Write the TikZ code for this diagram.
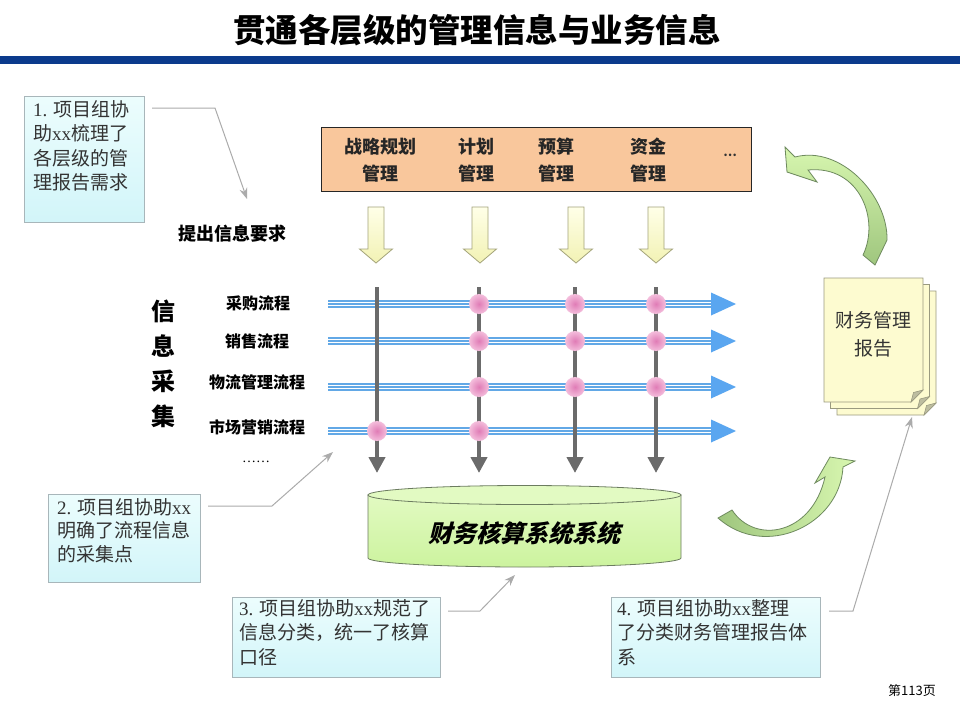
\documentclass[tikz,border=0pt]{standalone}
\usepackage{fontspec}
\setmainfont{Noto Sans CJK SC}
\newfontfamily\latf{Liberation Serif}
\newfontfamily\slantcjk[FakeSlant=0.25]{Noto Sans CJK SC}
\usetikzlibrary{arrows.meta}
\definecolor{titlebar}{HTML}{0B3A8C}
\definecolor{orangebox}{HTML}{F9C79C}
\definecolor{boxtop}{HTML}{ECFDFD}
\definecolor{boxbot}{HTML}{D2F5F9}
\definecolor{boxline}{HTML}{A8B6BA}
\definecolor{connc}{HTML}{ABABAB}
\definecolor{blueln}{HTML}{62A8E6}
\definecolor{bluehead}{HTML}{5AA6F0}
\definecolor{grayarr}{HTML}{6B6B6B}
\definecolor{pinkin}{HTML}{E07CB6}
\definecolor{pinkout}{HTML}{F4BEDC}
\definecolor{yeltop}{HTML}{FFFFE8}
\definecolor{yelbot}{HTML}{F2F2B4}
\definecolor{yelline}{HTML}{A4A47A}
\definecolor{cylfill}{HTML}{CCF39E}
\definecolor{cyltop}{HTML}{E2FAC2}
\definecolor{cylline}{HTML}{6C7C60}
\definecolor{greenlt}{HTML}{D8F7B0}
\definecolor{greendk}{HTML}{9FC67E}
\definecolor{greenln}{HTML}{6E8A5E}
\definecolor{docfill}{HTML}{FDFBD0}
\definecolor{docline}{HTML}{9A9A80}
\definecolor{foldc}{HTML}{BDBDA0}
\definecolor{txt}{HTML}{333333}
\tikzset{
  notebox/.style={draw=boxline, line width=0.8pt, top color=boxtop, bottom color=boxbot, anchor=north west, inner sep=0pt},
  notetext/.style={anchor=north west, inner sep=0pt, align=left, text=txt, font=\fontsize{19}{24.5}\selectfont},
  conn/.style={draw=connc, line width=1pt, -{Stealth[length=11pt,width=8pt]}},
  mgtxt/.style={align=center, font=\fontsize{18}{27}\selectfont\bfseries, text=black!85},
  proctxt/.style={font=\fontsize{16}{16}\selectfont\bfseries},
  yarrow/.style={draw=yelline, line width=0.8pt, top color=yeltop, bottom color=yelbot},
  garrow/.style={draw=grayarr, line width=4.2pt, -{Triangle[length=16pt,width=16pt]}},
  greenarrow/.style={draw=greenln, line width=0.8pt},
  docpage/.style={draw=docline, line width=0.8pt, fill=docfill},
}
\begin{document}
\begin{tikzpicture}[x=1pt,y=-1pt]
\useasboundingbox (0,0) rectangle (960,720);
\fill[white] (0,0) rectangle (960,720);

% title
\node[font=\fontsize{32.5}{32.5}\selectfont\bfseries] (title) at (477,30) {贯通各层级的管理信息与业务信息};
\fill[titlebar] (0,56) rectangle (960,64);

% management box
\node[draw=black!85, line width=1pt, fill=orangebox, minimum width=430pt, minimum height=64pt, anchor=north west] (mgmt) at (321,127) {};
\node[mgtxt] (m1) at (380,160) {战略规划\\管理};
\node[mgtxt] (m2) at (476,160) {计划\\管理};
\node[mgtxt] (m3) at (556,160) {预算\\管理};
\node[mgtxt] (m4) at (648,160) {资金\\管理};
\node[font=\fontsize{12}{12}\selectfont\bfseries, text=black!80] (m5) at (730,155) {…};

% yellow arrows
\foreach \x in {376,480,576,656}{
  \draw[yarrow] (\x-8,207) -- (\x+8,207) -- (\x+8,249) -- (\x+16.5,249) -- (\x,263) -- (\x-16.5,249) -- (\x-8,249) -- cycle;
}
\node[font=\fontsize{18}{18}\selectfont\bfseries] (req) at (232,234) {提出信息要求};

% process labels
\node[font=\fontsize{24}{35}\selectfont\bfseries, align=center] (collect) at (163,364) {信\\息\\采\\集};
\node[proctxt] (p1) at (258,303) {采购流程};
\node[proctxt] (p2) at (257,341) {销售流程};
\node[proctxt] (p3) at (257,382) {物流管理流程};
\node[proctxt] (p4) at (257,427) {市场营销流程};
\node[font=\fontsize{14}{14}\selectfont\latf] (p5) at (256,462) {……};

% horizontal flows
\foreach \y in {304,341,387,431}{
  \draw[blueln, line width=7.5pt] (328,\y) -- (714,\y);
  \draw[white, line width=4pt] (328,\y) -- (714,\y);
  \draw[blueln, line width=1.4pt] (328,\y) -- (714,\y);
  \fill[bluehead] (711,\y-11.5) -- (736,\y) -- (711,\y+11.5) -- cycle;
}
% vertical arrows
\foreach \x in {377,479,575,656}{
  \draw[garrow] (\x,287) -- (\x,473);
}
% collection points
\foreach \p in {(479,304),(575,304),(656,304),(479,341),(575,341),(656,341),(479,387),(575,387),(656,387),(377,431),(479,431)}{
  \shade[inner color=pinkin, outer color=pinkout] \p circle[radius=10];
}

% cylinder
\path[draw=cylline, line width=0.8pt, top color=cyltop, bottom color=cylfill]
  (368,495) -- (368,558) arc[start angle=180, end angle=0, x radius=156.5, y radius=9] -- (681,495) -- cycle;
\draw[cylline, line width=0.8pt, fill=cyltop] (524.5,495) ellipse[x radius=156.5, y radius=9.5];
\node[font=\fontsize{24}{24}\selectfont\slantcjk\bfseries] (sys) at (524,533) {财务核算系统系统};

% report documents
\foreach \d in {13,6.5,0}{
  \draw[docpage] (824+\d,278+\d) -- (923+\d,278+\d) -- (923+\d,390+\d) -- (911+\d,402+\d) -- (824+\d,402+\d) -- cycle;
  \draw[docline, line width=0.6pt, fill=foldc] (911+\d,402+\d) -- (923+\d,390+\d) -- (913.5+\d,392.5+\d) -- cycle;
}
\node[align=center, text=black!80, font=\fontsize{19}{28}\selectfont] (report) at (873,334) {财务管理\\报告};

% green curved arrows
\path[greenarrow, top color=greenlt, bottom color=greendk]
  (785,147) -- (795,157) .. controls (840,145) and (888,195) .. (887,240) -- (875,265) -- (863,255)
  .. controls (880,220) and (860,165) .. (808,170) -- (817,182) -- (787,172) -- cycle;
\path[greenarrow, left color=greendk, right color=greenlt]
  (718,518) -- (732,510) .. controls (755,545) and (812,535) .. (825,477) -- (815,483) -- (830,457)
  -- (855,461) -- (843,467) .. controls (840,525) and (765,560) .. (718,518) -- cycle;

% note boxes
\node[notebox, minimum width=120pt, minimum height=126pt] (n1) at (24,96) {};
\node[notetext] (t1) at (33,100) {{\latf 1.} 项目组协\\助{\latf xx}梳理了\\各层级的管\\理报告需求};
\node[notebox, minimum width=152pt, minimum height=88pt] (n2) at (48,494) {};
\node[notetext, font=\fontsize{19}{23.5}\selectfont] (t2) at (57,498) {{\latf 2.} 项目组协助{\latf xx}\\明确了流程信息\\的采集点};
\node[notebox, minimum width=208pt, minimum height=80pt] (n3) at (232,597) {};
\node[notetext] (t3) at (239,599) {{\latf 3.} 项目组协助{\latf xx}规范了\\信息分类，统一了核算\\口径};
\node[notebox, minimum width=209pt, minimum height=80pt] (n4) at (611,597) {};
\node[notetext] (t4) at (617,599) {{\latf 4.} 项目组协助{\latf xx}整理\\了分类财务管理报告体\\系};

% connectors
\coordinate (c1a) at (152,108); \coordinate (c1b) at (215,108); \coordinate (c1c) at (247,199);
\coordinate (c2a) at (208,506); \coordinate (c2b) at (272,506); \coordinate (c2c) at (333,452);
\coordinate (c3a) at (448,611); \coordinate (c3b) at (480,611); \coordinate (c3c) at (515,575);
\coordinate (c4a) at (829,611); \coordinate (c4b) at (853,611); \coordinate (c4c) at (912,417);
\draw[conn] (c1a) -- (c1b) -- (c1c);
\draw[conn] (c2a) -- (c2b) -- (c2c);
\draw[conn] (c3a) -- (c3b) -- (c3c);
\draw[conn] (c4a) -- (c4b) -- (c4c);

\node[font=\fontsize{13}{13}\selectfont] (page) at (912,691) {第113页};
\end{tikzpicture}
\end{document}
